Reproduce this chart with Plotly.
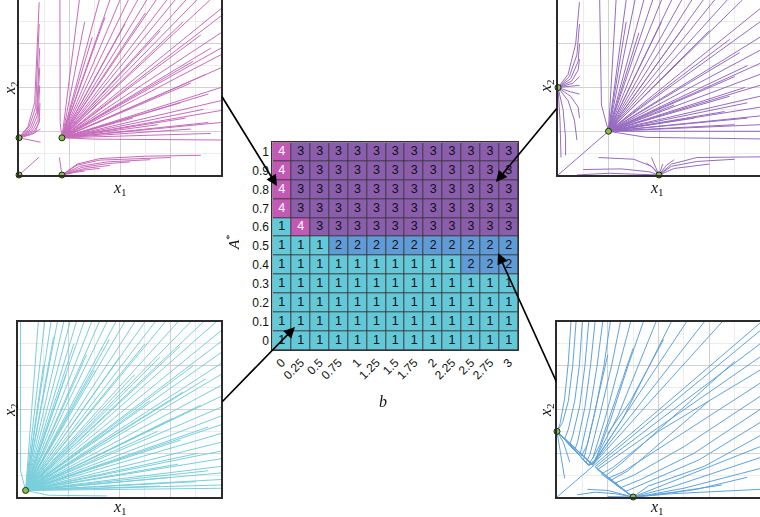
import plotly.graph_objects as go

W, H = 760, 517

# ---------------- data: region map ----------------
b_values = [0, 0.25, 0.5, 0.75, 1, 1.25, 1.5, 1.75, 2, 2.25, 2.5, 2.75, 3]
b_labels = ["0", "0.25", "0.5", "0.75", "1", "1.25", "1.5", "1.75", "2", "2.25", "2.5", "2.75", "3"]
a_values = [0, 0.1, 0.2, 0.3, 0.4, 0.5, 0.6, 0.7, 0.8, 0.9, 1.0]
a_labels = ["0", "0.1", "0.2", "0.3", "0.4", "0.5", "0.6", "0.7", "0.8", "0.9", "1"]
region = [
    [1, 1, 1, 1, 1, 1, 1, 1, 1, 1, 1, 1, 1],  # A*=0
    [1, 1, 1, 1, 1, 1, 1, 1, 1, 1, 1, 1, 1],  # 0.1
    [1, 1, 1, 1, 1, 1, 1, 1, 1, 1, 1, 1, 1],  # 0.2
    [1, 1, 1, 1, 1, 1, 1, 1, 1, 1, 1, 1, 1],  # 0.3
    [1, 1, 1, 1, 1, 1, 1, 1, 1, 1, 2, 2, 2],  # 0.4
    [1, 1, 1, 2, 2, 2, 2, 2, 2, 2, 2, 2, 2],  # 0.5
    [1, 4, 3, 3, 3, 3, 3, 3, 3, 3, 3, 3, 3],  # 0.6
    [4, 3, 3, 3, 3, 3, 3, 3, 3, 3, 3, 3, 3],  # 0.7
    [4, 3, 3, 3, 3, 3, 3, 3, 3, 3, 3, 3, 3],  # 0.8
    [4, 3, 3, 3, 3, 3, 3, 3, 3, 3, 3, 3, 3],  # 0.9
    [4, 3, 3, 3, 3, 3, 3, 3, 3, 3, 3, 3, 3],  # 1.0
]
region_colors = ["#63c8d8", "#5f9bd6", "#8b5dad", "#c159b5"]
text_colors = {1: "#111111", 2: "#111111", 3: "#111111", 4: "#ffffff"}

# ---------------- data: phase portraits (state units) ----------------
# top-left (region 4, magenta)
tl_points = [(0, 0), (1.7, 0), (0, 1.7), (1.7, 1.7)]
tl_node = (1.7, 1.7)
tl_fan_ends = [(2.39, 8), (3.18, 8), (3.6, 8), (4.0, 8), (4.33, 8), (4.7, 8), (5.06, 8), (5.43, 8),
               (5.85, 8), (6.18, 8), (6.61, 8), (7.04, 8), (7.56, 8),
               (2.6, 7.0), (2.9, 6.3), (3.4, 7.2), (4.2, 6.9), (5.0, 7.4), (5.6, 6.6), (6.5, 7.0),
               (7.2, 6.4), (7.6, 5.8), (6.9, 5.2), (7.4, 4.6), (6.8, 4.2), (7.5, 3.7), (6.4, 3.3),
               (7.3, 3.0), (6.6, 2.6), (7.5, 2.4), (6.8, 2.1), (7.6, 1.9), (5.5, 2.3), (4.5, 2.6),
               (8, 7.6), (8, 7.27), (8, 6.5), (8, 5.8), (8, 5.5), (8, 4.9), (8, 4.0), (8, 3.4),
               (8, 2.95), (8, 2.4)]
tl_paths = [
    [(1.62, 8.0), (1.63, 2.4), (1.7, 1.7)],
    [(1.7, 1.7), (3.0, 1.64), (8.0, 1.6)],
    [(0, 1.7), (0.35, 2.2), (0.62, 3.3), (0.8, 7.9)],
    [(0, 1.7), (0.4, 2.2), (0.66, 3.1), (0.8, 6.9)],
    [(0, 1.7), (0.45, 2.15), (0.7, 2.9), (0.82, 5.8)],
    [(0, 1.7), (0.5, 2.1), (0.72, 2.7), (0.82, 4.9)],
    [(0, 1.7), (0.55, 2.05), (0.75, 2.5), (0.82, 4.1)],
    [(0, 1.7), (0.6, 2.0), (0.8, 2.4), (0.83, 3.3)],
    [(0, 1.7), (0.65, 1.95), (0.83, 2.6)],
    [(0, 1.7), (0.5, 1.85), (0.85, 2.1)],
    [(0, 1.7), (0.85, 1.5)],
    [(0, 0), (0.8, 0.82)],
    [(1.7, 0), (1.6, 0.8)],
    [(1.7, 0), (2.3, 0.5), (3.2, 0.75), (5.0, 0.86), (7.2, 0.9)],
    [(1.7, 0), (2.3, 0.45), (3.2, 0.68), (6.0, 0.8)],
    [(1.7, 0), (2.4, 0.4), (3.5, 0.6), (5.2, 0.7)],
    [(1.7, 0), (2.5, 0.35), (3.5, 0.52), (4.4, 0.6)],
    [(1.7, 0), (2.6, 0.3), (3.6, 0.44)],
    [(1.7, 0), (2.5, 0.22), (3.2, 0.3)],
    [(1.7, 0), (2.2, 0.12), (2.6, 0.18)],
]

# top-right (region 3, purple)
tr_points = [(0, 4), (2, 2), (4, 0)]
tr_node = (2, 2)
tr_fan_ends = [(2.3, 8), (2.7, 8), (3.05, 8), (3.4, 8), (3.75, 8), (4.1, 8), (4.5, 8), (4.9, 8),
               (5.3, 8), (5.75, 8), (6.2, 8), (6.7, 8), (7.3, 8),
               (2.7, 7.0), (3.2, 6.5), (4.1, 7.0), (5.0, 6.8), (6.0, 6.6), (6.8, 6.2), (7.2, 5.6),
               (7.5, 5.0), (7.0, 4.5), (7.4, 4.0), (6.8, 3.6), (7.5, 3.3), (6.6, 2.9), (7.5, 2.6),
               (7.0, 2.3), (5.4, 2.6), (4.6, 3.2),
               (8, 7.6), (8, 7.0), (8, 6.3), (8, 5.7), (8, 5.1), (8, 4.6), (8, 4.1), (8, 3.6),
               (8, 3.1), (8, 2.7), (8, 2.3), (8, 2.0)]
tr_paths = [
    [(1.65, 8.0), (1.72, 3.2), (2.0, 2.0)],
    [(2.0, 2.0), (3.5, 1.72), (8.0, 1.65)],
    [(0, 0), (2.0, 2.0)],
    [(0, 4), (0.4, 4.6), (0.7, 6.0), (0.85, 7.9)],
    [(0, 4), (0.45, 4.5), (0.75, 5.5), (0.85, 6.9)],
    [(0, 4), (0.5, 4.4), (0.8, 5.2), (0.85, 6.0)],
    [(0, 4), (0.55, 4.3), (0.8, 4.8), (0.85, 5.3)],
    [(0, 4), (0.6, 4.2), (0.85, 4.5)],
    [(0, 4), (0.5, 4.05), (0.85, 4.1)],
    [(0, 4), (0.5, 3.8), (0.85, 3.7)],
    [(0, 4), (0.5, 3.6), (0.8, 3.1), (0.85, 2.6)],
    [(0, 4), (0.4, 3.4), (0.65, 2.5), (0.75, 1.6)],
    [(0, 4), (0.2, 3.0), (0.3, 1.7), (0.3, 0.9)],
    [(0, 4), (0.08, 2.5), (0.12, 0.8)],
    [(1.6, 0.8), (3.0, 0.72), (3.7, 0.4), (4.0, 0.0)],
    [(1.0, 0.25), (2.5, 0.28), (3.6, 0.15), (4.0, 0.0)],
    [(0.75, 0.0), (2.0, 0.08), (4.0, 0.0)],
    [(3.7, 0.8), (3.85, 0.4), (4.0, 0.0)],
    [(3.5, 0.55), (3.8, 0.3), (4.0, 0.0)],
    [(4.0, 0.0), (4.5, 0.5), (5.5, 0.8), (8.0, 0.83)],
    [(4.0, 0.0), (4.5, 0.4), (5.5, 0.62), (7.0, 0.72)],
    [(4.0, 0.0), (4.6, 0.3), (6.0, 0.5)],
    [(4.0, 0.0), (4.3, 0.45), (4.6, 0.7)],
    [(4.0, 0.0), (4.15, 0.5)],
]

# bottom-left (region 1, cyan)
bl_points = [(0.3, 0.3)]
bl_node = (0.3, 0.3)
bl_fan_ends = [(0.8, 8), (1.05, 8), (1.3, 8), (1.55, 8), (1.8, 8), (2.05, 8), (2.3, 8), (2.6, 8),
               (2.9, 8), (3.2, 8), (3.5, 8), (3.85, 8), (4.2, 8), (4.6, 8), (5.0, 8), (5.4, 8),
               (5.8, 8), (6.3, 8), (6.8, 8), (7.3, 8), (7.8, 8),
               (1.4, 7.3), (2.2, 7.0), (2.7, 6.5), (3.6, 7.2), (4.0, 6.4), (5.0, 7.0), (5.6, 6.4),
               (6.4, 6.9), (6.9, 6.0), (7.4, 5.4), (6.5, 4.8), (7.2, 4.2), (6.1, 3.6), (7.5, 3.2),
               (6.4, 2.6), (7.1, 2.0), (6.3, 1.5), (7.5, 1.2), (6.0, 0.9), (7.0, 0.7), (5.6, 0.5),
               (1.0, 6.0), (1.9, 5.6), (3.0, 5.8), (4.6, 5.6), (5.2, 4.4), (5.5, 3.0),
               (8, 7.6), (8, 7.1), (8, 6.6), (8, 6.1), (8, 5.6), (8, 5.1), (8, 4.6), (8, 4.1),
               (8, 3.7), (8, 3.3), (8, 2.9), (8, 2.5), (8, 2.1), (8, 1.75), (8, 1.4), (8, 1.1),
               (8, 0.8), (8, 0.55), (8, 0.4)]
bl_paths = [
    [(0.1, 8.0), (0.1, 1.2), (0.3, 0.3)],
    [(0.3, 0.3), (1.2, 0.08), (3.5, 0.05)],
]

# bottom-right (region 2, blue)
br_points = [(0, 3), (3, 0)]
br_paths = [
    [(0, 0), (8, 7.95)],
    [(0.75, 8.0), (0.62, 6.0), (0.45, 4.4), (0.22, 3.4), (0.0, 3.0)],
    [(0.55, 8.0), (0.45, 6.2), (0.3, 4.5), (0.12, 3.35), (0.0, 3.0)],
    [(1.0, 8.0), (0.88, 6.0), (0.7, 4.4), (0.45, 3.1), (0.3, 2.65), (0.0, 3.0)],
    [(1.25, 8.0), (1.1, 6.0), (0.9, 4.2), (0.62, 2.8), (0.5, 2.4), (0.0, 3.0)],
    [(1.5, 8.0), (1.32, 6.0), (1.1, 4.1), (0.82, 2.55), (0.7, 2.15), (0.0, 3.0)],
    [(1.8, 8.0), (1.58, 6.0), (1.3, 4.0), (1.0, 2.35), (0.9, 1.9), (0.0, 3.0)],
    [(2.1, 8.0), (1.85, 6.0), (1.5, 3.9), (1.15, 2.1), (1.05, 1.7), (0.0, 3.0)],
    [(2.5, 8.0), (2.15, 6.0), (1.7, 3.8), (1.3, 1.95), (1.15, 1.57), (0.0, 3.0)],
    [(2.9, 8.0), (2.45, 6.0), (1.9, 3.6), (1.42, 1.8), (1.23, 1.47), (0.0, 3.0)],
    [(3.4, 8.0), (2.8, 6.0), (2.1, 3.5), (1.52, 1.72), (1.25, 1.45), (0.0, 3.0)],
    [(3.9, 8.0), (2.4, 3.7), (1.45, 1.6), (1.25, 1.45), (0.0, 3.0)],
    [(4.5, 8.0), (2.6, 3.6), (1.45, 1.55), (1.25, 1.45), (0.0, 3.0)],
    [(5.1, 8.0), (1.4, 1.5), (0.0, 3.0)],
    [(5.8, 8.0), (1.4, 1.48), (0.0, 3.0)],
    [(6.5, 8.0), (1.4, 1.45), (0.0, 3.0)],
    [(2.0, 6.5), (1.6, 4.4), (1.2, 2.4), (0.95, 1.85)],
    [(3.0, 6.8), (2.3, 4.4), (1.7, 2.4), (1.4, 1.75)],
    [(4.2, 7.2), (2.9, 4.4), (2.0, 2.9)],
    [(0, 3), (0.12, 2.2), (0.25, 1.3), (0.3, 0.85)],
    [(0, 3), (0.25, 2.5), (0.42, 1.9), (0.5, 1.6)],
    [(8, 7.6), (1.5, 1.38), (3, 0)],
    [(8, 7.0), (1.55, 1.33), (3, 0)],
    [(8, 6.4), (1.6, 1.25), (3, 0)],
    [(8, 5.8), (4.0, 3.0), (2.2, 1.35), (1.75, 1.05), (3, 0)],
    [(8, 5.2), (4.5, 2.6), (2.6, 1.15), (2.0, 0.85), (3, 0)],
    [(8, 4.6), (5.0, 2.3), (3.0, 0.98), (2.25, 0.62), (3, 0)],
    [(8, 4.0), (5.4, 2.0), (3.3, 0.8), (2.5, 0.42), (3, 0)],
    [(8, 3.4), (5.6, 1.7), (3.5, 0.65), (2.7, 0.25), (3, 0)],
    [(8, 2.8), (5.8, 1.4), (3.6, 0.5), (3, 0)],
    [(8, 2.3), (4.0, 0.45), (3.2, 0.1), (3, 0)],
    [(8, 1.8), (4.5, 0.45), (3.4, 0.12), (3, 0)],
    [(8, 1.3), (5.0, 0.4), (3.6, 0.1), (3, 0)],
    [(7.5, 0.9), (5.5, 0.35), (3.8, 0.08), (3, 0)],
    [(6.5, 0.55), (4.5, 0.2), (3, 0)],
    [(7.0, 6.2), (2.6, 1.6), (1.9, 0.95)],
    [(6.0, 4.4), (2.8, 1.2), (2.1, 0.75)],
    [(0.8, 0.1), (1.5, 0.22), (2.3, 0.15), (3, 0)],
    [(1.2, 0.35), (2.0, 0.3), (2.6, 0.12), (3, 0)],
    [(2.0, 0.02), (3, 0)],
    [(3, 0), (4.5, 0.15), (8, 0.35)],
]

line_colors = {"tl": "#c25db5", "tr": "#8a5bb8", "bl": "#6ccad9", "br": "#4f9ad8"}

fig = go.Figure()


def px_dom_x(a, b):
    return [a / W, b / W]


def px_dom_y(top, bottom):
    return [1 - bottom / H, 1 - top / H]


# ---------------- heatmap ----------------
cs = []
for i, c in enumerate(region_colors):
    cs.append([i / 4, c])
    cs.append([(i + 1) / 4, c])

fig.add_trace(go.Heatmap(x=b_values, y=a_values, z=region, colorscale=cs, zmin=0.5, zmax=4.5,
                         showscale=False, xgap=1, ygap=1, hoverinfo="skip",
                         xaxis="x", yaxis="y"))
tx, ty, tt, tc = [], [], [], []
for r, a in enumerate(a_values):
    for c, b in enumerate(b_values):
        tx.append(b)
        ty.append(a)
        tt.append(str(region[r][c]))
        tc.append(text_colors[region[r][c]])
fig.add_trace(go.Scatter(x=tx, y=ty, text=tt, mode="text", textfont=dict(color=tc, size=12.5,
                         family="Liberation Sans, Arial"), hoverinfo="skip", xaxis="x", yaxis="y",
                         showlegend=False))


# ---------------- phase portraits ----------------
def add_panel(ax, node, fan_ends, paths, points, color):
    xs, ys = [], []
    if node is not None:
        for e in fan_ends:
            xs += [node[0], e[0], None]
            ys += [node[1], e[1], None]
    for p in paths:
        xs += [q[0] for q in p] + [None]
        ys += [q[1] for q in p] + [None]
    fig.add_trace(go.Scatter(x=xs, y=ys, mode="lines", line=dict(color=color, width=1),
                             opacity=0.9, hoverinfo="skip", showlegend=False,
                             xaxis="x" + ax, yaxis="y" + ax))
    fig.add_trace(go.Scatter(x=[p[0] for p in points], y=[p[1] for p in points], mode="markers",
                             marker=dict(size=6, color="#86bf4f", line=dict(color="#1e2a10", width=1)),
                             cliponaxis=False, hoverinfo="skip", showlegend=False,
                             xaxis="x" + ax, yaxis="y" + ax))


add_panel("2", tl_node, tl_fan_ends, tl_paths, tl_points, line_colors["tl"])
add_panel("3", tr_node, tr_fan_ends, tr_paths, tr_points, line_colors["tr"])
add_panel("4", bl_node, bl_fan_ends, bl_paths, bl_points, line_colors["bl"])
add_panel("5", None, [], br_paths, br_points, line_colors["br"])


def panel_axes(dx, dy, mirror_x, mirror_y):
    common = dict(range=[0, 8], showticklabels=False, ticks="", zeroline=False,
                  showgrid=True, gridcolor="#d2d2d2", gridwidth=1, dtick=2, tick0=0,
                  minor=dict(dtick=1, showgrid=True, gridcolor="#ececec", gridwidth=1),
                  showline=True, linecolor="#2b2b2b", linewidth=1.6, fixedrange=True)
    xa = dict(common, domain=dx, mirror=mirror_x)
    ya = dict(common, domain=dy, mirror=mirror_y)
    return xa, ya


xa2, ya2 = panel_axes(px_dom_x(19, 221), px_dom_y(0, 175), False, True)
xa3, ya3 = panel_axes(px_dom_x(558, 760), px_dom_y(0, 175), False, False)
xa4, ya4 = panel_axes(px_dom_x(18, 221), px_dom_y(322, 497), True, True)
xa5, ya5 = panel_axes(px_dom_x(557, 760), px_dom_y(322, 497), True, False)
for n, (xa, ya) in zip("2345", [(xa2, ya2), (xa3, ya3), (xa4, ya4), (xa5, ya5)]):
    xa["anchor"] = "y" + n
    ya["anchor"] = "x" + n

# ---------------- annotations ----------------
ann = []
math_font = dict(family="Liberation Serif, DejaVu Serif, serif", size=16, color="#111")


def label(x, y, text, font, angle=0):
    return dict(x=x / W, y=1 - y / H, xref="paper", yref="paper", text=text, showarrow=False,
                font=font, textangle=angle, xanchor="center", yanchor="middle")


for (x, y) in [(120, 188), (657, 188), (120, 507), (657, 507)]:
    ann.append(label(x, y, "<i>x</i><sub>1</sub>", math_font))
for (x, y) in [(10, 88), (547, 86), (10, 410), (546, 410)]:
    ann.append(label(x, y, "<i>x</i><sub>2</sub>", math_font, -90))
ann.append(label(233, 243, "<i>A</i><sup>*</sup>", dict(math_font, size=15), -90))
ann.append(label(383, 401, "<i>b</i>", dict(math_font, size=16)))

arrows = [((221, 95), (277, 186)), ((558, 107), (496, 182)),
          ((221, 403), (295, 327)), ((557, 383), (498, 253))]
for (t, h) in arrows:
    ann.append(dict(x=h[0] / W, y=1 - h[1] / H, xref="paper", yref="paper",
                    ax=t[0] - h[0], ay=t[1] - h[1], axref="pixel", ayref="pixel",
                    showarrow=True, arrowhead=2, arrowsize=1.3, arrowwidth=1.7,
                    arrowcolor="#000", standoff=0, text=""))

tick_font = dict(family="Liberation Sans, Arial", size=12, color="#111")

fig.update_layout(
    width=W, height=H, margin=dict(l=0, r=0, t=0, b=0),
    paper_bgcolor="white", plot_bgcolor="white", showlegend=False,
    xaxis=dict(domain=px_dom_x(272.3, 518.3), range=[-0.125, 3.125], tickvals=b_values,
               ticktext=b_labels, tickangle=-45, tickfont=tick_font, showgrid=False,
               zeroline=False, showline=True, mirror=True, linecolor="#333", linewidth=1,
               ticks="", anchor="y", fixedrange=True),
    yaxis=dict(domain=px_dom_y(142.3, 350), range=[-0.05, 1.05], tickvals=a_values,
               ticktext=a_labels, tickfont=tick_font, showgrid=False, zeroline=False,
               showline=True, mirror=True, linecolor="#333", linewidth=1, ticks="",
               anchor="x", fixedrange=True),
    xaxis2=xa2, yaxis2=ya2, xaxis3=xa3, yaxis3=ya3,
    xaxis4=xa4, yaxis4=ya4, xaxis5=xa5, yaxis5=ya5,
    annotations=ann,
    shapes=[dict(type="rect", xref="x", yref="y", x0=-0.125, x1=3.125, y0=-0.05, y1=1.05,
                 fillcolor="#3a3a3a", line=dict(width=0), layer="below")],
)

fig.write_html("out.html", config={"displayModeBar": False},
               post_script="document.body.style.margin='0px';document.body.style.overflow='hidden';")
